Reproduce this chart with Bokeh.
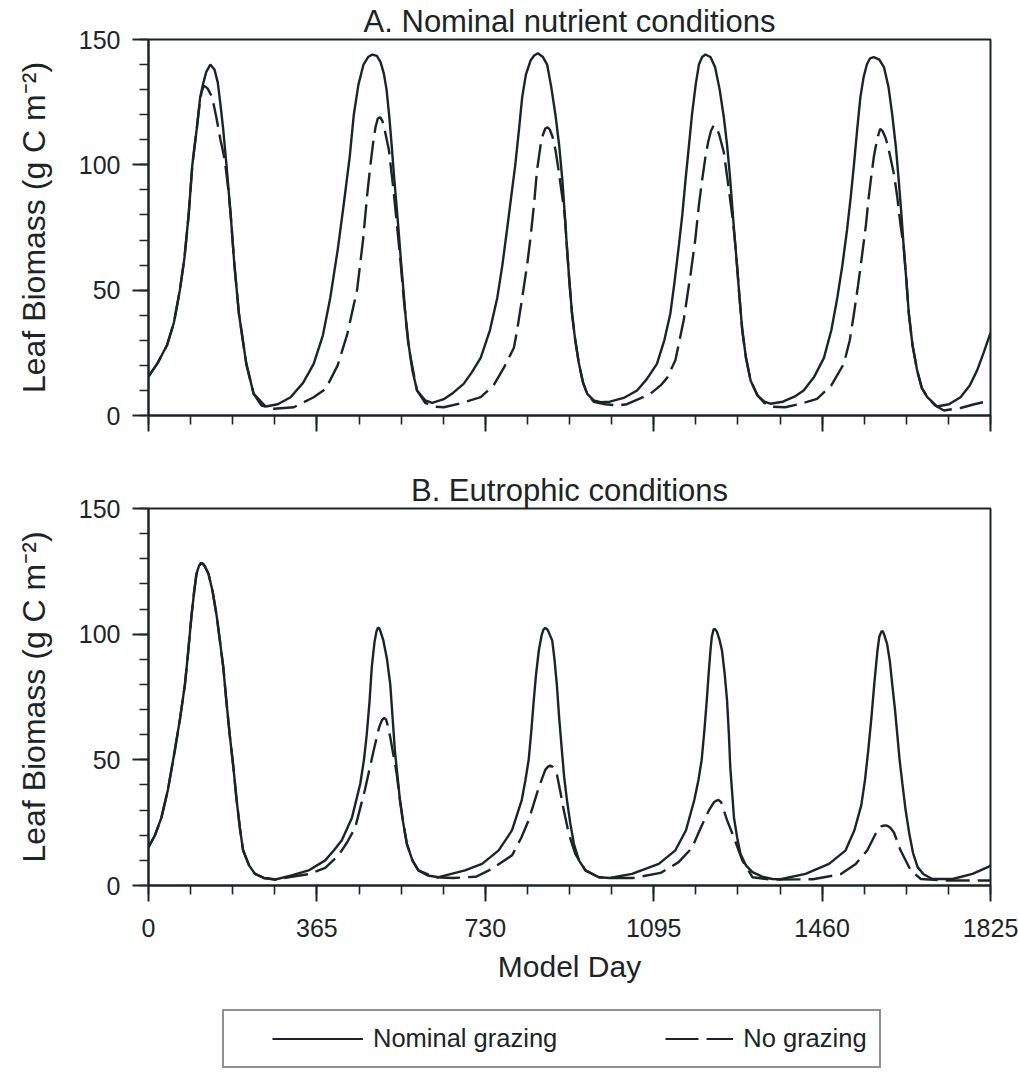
from bokeh.plotting import figure
from bokeh.models import Range1d, FixedTicker, Legend, LegendItem
from bokeh.layouts import column
from bokeh.embed import file_html
from bokeh.resources import INLINE

# ---------------- data ----------------
x_ticks = [0, 365, 730, 1095, 1460, 1825]
y_ticks = [0, 50, 100, 150]

a_solid_day = [0, 20, 40, 55, 68, 78, 87, 95, 105, 112, 118, 125, 134, 143, 150, 156, 162, 169, 178, 186, 196, 212,
               228, 254, 280, 308, 335, 358, 378, 394, 410, 423, 436, 445, 455, 466, 476, 485, 495, 503, 510, 516, 522,
               527, 532, 537, 542, 547, 553, 558, 564, 572, 582, 600, 615, 640, 660, 683, 700, 720, 740, 756, 767, 777,
               786, 795, 803, 810, 818, 828, 836, 844, 855, 864, 873, 882, 890, 897, 902, 907, 912, 918, 925, 933, 942,
               951, 965, 980, 1000, 1030, 1059, 1080, 1102, 1118, 1131, 1140, 1149, 1157, 1164, 1171, 1178, 1186, 1193,
               1200, 1207, 1218, 1228, 1238, 1247, 1254, 1260, 1265, 1270, 1276, 1281, 1287, 1295, 1305, 1320, 1335,
               1348, 1375, 1400, 1420, 1443, 1464, 1480, 1493, 1504, 1514, 1522, 1529, 1536, 1543, 1550, 1557, 1564,
               1572, 1584, 1594, 1604, 1612, 1620, 1626, 1632, 1637, 1643, 1648, 1656, 1666, 1676, 1688, 1709, 1735,
               1760, 1780, 1796, 1810, 1825]
a_solid_val = [15.5, 21, 28, 37, 50, 63, 80, 100, 115, 127, 132, 137, 140, 138, 133, 124, 114, 100, 80.4, 60.5, 40.6,
               20.6, 8.6, 3.6, 4.5, 7.3, 13, 20.6, 32, 47, 66, 84, 103, 120, 132, 140, 143, 144, 143.5, 141, 136.5, 130,
               119, 108, 96, 85, 74, 62, 49, 38, 28, 18, 10, 6, 5, 6.5, 9, 12.6, 17, 23, 34, 47, 60, 74, 87, 100, 114,
               127, 136, 141.6, 143.6, 144.5, 143, 140, 131, 120, 108, 94, 81, 67, 54, 40.6, 30, 20.6, 13, 8.6, 6, 5.3,
               5.5, 7, 10, 14.5, 20.6, 30, 40.6, 53, 67, 80, 94, 107, 120, 132, 140, 143, 144, 143, 139, 130, 119, 108,
               96, 84, 72, 59, 47, 34, 23, 14, 8, 5.5, 4.7, 5.5, 7.5, 10, 15.5, 23, 34, 47, 60, 74, 87, 100, 114, 127,
               135, 140, 142.5, 143, 142, 139, 131, 120, 107, 94, 80, 67, 53, 40.6, 28, 18, 11, 7.3, 3.6, 4.5, 7.3, 12,
               18, 25, 33]

a_dash_day = [0, 20, 40, 55, 68, 78, 87, 95, 105, 110, 115, 120, 128, 138, 147, 156, 163, 168, 173, 178, 186, 196, 212,
              228, 245, 272, 315, 358, 384, 410, 431, 452, 465, 474, 481, 487, 492, 497, 502, 507, 513, 521, 531, 539,
              546, 553, 564, 582, 600, 620, 640, 680, 720, 748, 770, 792, 799, 810, 821, 828, 836, 842, 850, 855, 860,
              865, 870, 876, 882, 889, 900, 903, 907, 912, 918, 925, 933, 942, 951, 965, 990, 1016, 1037, 1062, 1088,
              1110, 1124, 1142, 1160, 1175, 1185, 1193, 1200, 1207, 1213, 1219, 1225, 1231, 1237, 1247, 1258, 1265,
              1270, 1276, 1281, 1287, 1295, 1305, 1320, 1335, 1350, 1380, 1413, 1449, 1480, 1507, 1520, 1529, 1538,
              1547, 1555, 1561, 1567, 1572, 1577, 1582, 1586, 1591, 1597, 1602, 1608, 1616, 1623, 1630, 1637, 1643,
              1648, 1656, 1666, 1676, 1688, 1705, 1724, 1760, 1790, 1825]
a_dash_val = [15.5, 21, 28, 37, 50, 63, 80, 100, 115, 123, 129, 131.6, 130.5, 127, 119, 110, 104, 98, 90, 80.4, 60.5,
              40.6, 20.6, 8.6, 4, 2.7, 3.3, 7.3, 10.6, 20, 32.6, 50, 70, 88, 100, 109, 115, 118.5, 119, 117.5, 113,
              106, 90, 75, 62, 47, 27, 10, 5, 3.5, 3.3, 5, 7.3, 12, 19, 27, 34, 47, 60.5, 71, 85, 97.7, 108, 112, 114.5,
              115, 114, 111, 106, 97.7, 83, 78, 67, 54, 40.6, 30, 20.6, 13, 8.6, 5.5, 4.5, 4, 4.5, 6.5, 8.7, 12, 15, 22,
              38, 56.5, 70, 84, 94, 103, 109, 113.5, 115.7, 115, 112, 105, 90, 80, 72, 59, 47, 34, 23, 14, 8, 5, 3.5,
              3.3, 4.7, 6.6, 12, 20.6, 30, 40.6, 52, 64.5, 76, 87, 96, 103, 108, 112, 114.4, 113.5, 111, 108, 103, 96,
              87, 76, 67, 53, 40.6, 28, 18, 11, 7.3, 4, 2, 3, 4.5, 6]

b_solid_day = [0, 14, 28, 42, 57, 68, 79, 86, 93, 99, 104, 109, 114, 118, 122, 130, 139, 148, 155, 162, 169, 176, 184,
               191, 198, 205, 218, 231, 250, 275, 310, 347, 383, 402, 419, 441, 459, 467, 473, 479, 484, 490, 494, 497,
               500, 503, 509, 517, 524, 529, 534, 540, 545, 552, 560, 572, 585, 605, 629, 686, 723, 759, 788, 809, 817,
               824, 830, 835, 840, 846, 852, 856, 860, 864, 867, 875, 880, 885, 890, 896, 901, 907, 914, 922, 933, 947,
               976, 1000, 1048, 1106, 1142, 1165, 1183, 1192, 1199, 1205, 1210, 1214, 1218, 1221, 1225, 1228, 1232,
               1238, 1243, 1249, 1254, 1258, 1261, 1265, 1269, 1276, 1283, 1295, 1309, 1330, 1352, 1370, 1424, 1475,
               1511, 1530, 1545, 1553, 1560, 1567, 1573, 1580, 1584, 1589, 1592, 1595, 1601, 1607, 1612, 1618, 1623,
               1628, 1634, 1641, 1649, 1657, 1667, 1680, 1699, 1743, 1786, 1819, 1825]
b_solid_val = [15.2, 20, 27, 38, 53.7, 66, 80, 93, 107, 117, 124, 127, 128.3, 128, 127, 124, 117, 107, 97, 87, 73, 60,
               47, 34, 23, 14, 8, 4.6, 3, 2.4, 4, 6, 10, 14, 18, 27, 40.5, 50, 60, 73, 87, 97, 101, 102.5, 102.5, 101,
               97.5, 90, 80, 67, 53.7, 43, 34, 25, 16.6, 10, 6, 4, 3.3, 6, 8.6, 14, 22, 34, 42, 50, 62, 73.6, 84, 93.5,
               99.5, 101.8, 102.5, 102, 101, 97.5, 90, 80, 67, 53.7, 43, 34, 25, 16.6, 10, 6, 3.3, 3, 4.6, 8.6, 14, 22,
               34, 42, 50, 62, 73.6, 84, 93.5, 99, 102, 102, 101, 97.5, 93.5, 84, 73.6, 60, 47, 37, 27, 19, 12.6, 8,
               5.3, 3.5, 2.6, 2.5, 4.6, 8.6, 14, 22, 32, 42, 53.7, 67, 80, 93.5, 99, 101.2, 101, 99.5, 96, 89, 80, 70,
               60, 50, 40.5, 30, 20.6, 13, 7.3, 4.5, 2.6, 2.6, 4.6, 7.3, 8]

b_dash_day = [0, 14, 28, 42, 57, 68, 79, 86, 93, 99, 104, 109, 114, 118, 122, 130, 139, 148, 155, 162, 169, 176, 184,
              191, 198, 205, 218, 231, 250, 275, 310, 347, 383, 412, 430, 448, 469, 488, 500, 506, 511, 515, 518, 524,
              538, 545, 552, 560, 572, 585, 621, 660, 710, 744, 788, 808, 824, 846, 860, 866, 871, 876, 880, 885, 893,
              900, 911, 925, 947, 976, 1000, 1050, 1110, 1149, 1178, 1197, 1215, 1225, 1231, 1236, 1241, 1245, 1254,
              1269, 1287, 1309, 1352, 1440, 1500, 1533, 1558, 1576, 1588, 1593, 1598, 1603, 1608, 1616, 1630, 1652,
              1674, 1720, 1780, 1825]
b_dash_val = [15.2, 20, 27, 38, 53.7, 66, 80, 93, 107, 117, 124, 127, 128.3, 128, 127, 124, 117, 107, 97, 87, 73, 60,
              47, 34, 23, 14, 8, 4.6, 3, 2.4, 3.5, 4.5, 7, 12, 17, 23, 38, 53.7, 63, 65.8, 66.7, 66, 64, 59, 44.4, 34,
              25, 16.6, 10, 6, 3.3, 3, 3.5, 6.6, 12, 19, 26, 39, 46, 47.3, 47.7, 47.2, 46, 44.4, 37, 30, 20.6, 12.6, 6,
              3.3, 3, 3, 5, 9.3, 15, 23, 30, 33, 33.8, 34, 33.2, 31, 26, 19, 10, 3.3, 2.3, 2.5, 4.5, 8.6, 14, 20.6, 23.5,
              23.8, 23.9, 23.6, 23, 21, 14, 6, 2.6, 2, 2, 2]

panel_titles = ["A. Nominal nutrient conditions", "B. Eutrophic conditions"]
series_labels = ["Nominal grazing", "No grazing"]

# ---------------- styling ----------------
INK = "#1b2427"
FONT = "Liberation Sans"
DASH = "24 8"
LW = 2.4
W = 1018


def make_panel(title, height, top, bottom, title_offset, show_x_labels):
    p = figure(width=W, height=height, x_range=Range1d(0, 1825), y_range=Range1d(0, 150),
               output_backend="svg", toolbar_location=None,
               min_border_left=148, min_border_right=28, min_border_top=top, min_border_bottom=bottom)
    p.title.text = title
    p.title.text_font = FONT
    p.title.text_font_size = "31px"
    p.title.text_font_style = "normal"
    p.title.text_color = INK
    p.title.align = "center"
    p.title.offset = title_offset
    p.title.standoff = 2
    p.xgrid.visible = False
    p.ygrid.visible = False
    p.outline_line_color = INK
    p.outline_line_width = 2
    p.background_fill_color = "white"
    p.border_fill_color = "white"

    p.xaxis.ticker = FixedTicker(ticks=x_ticks, minor_ticks=[i * 91.25 for i in range(21)])
    p.yaxis.ticker = FixedTicker(ticks=y_ticks, minor_ticks=list(range(0, 151, 10)))
    for ax in (p.xaxis, p.yaxis):
        ax.axis_line_color = INK
        ax.axis_line_width = 2
        ax.major_tick_line_color = INK
        ax.major_tick_line_width = 2
        ax.minor_tick_line_color = INK
        ax.minor_tick_line_width = 1.6
        ax.major_tick_in = 0
        ax.major_tick_out = 16
        ax.minor_tick_in = 0
        ax.minor_tick_out = 9
        ax.major_label_text_font = FONT
        ax.major_label_text_font_size = "25px"
        ax.major_label_text_color = INK
        ax.axis_label_text_font = FONT
        ax.axis_label_text_font_style = "normal"
        ax.axis_label_text_color = INK
    p.yaxis.axis_label = "Leaf Biomass (g C m\u207b\u00b2)"
    p.yaxis.axis_label_text_font_size = "32px"
    p.yaxis.major_label_standoff = 12
    p.yaxis.axis_label_standoff = 24
    if show_x_labels:
        p.xaxis.axis_label = "Model Day"
        p.xaxis.axis_label_text_font_size = "30px"
        p.xaxis.major_label_standoff = 17
        p.xaxis.axis_label_standoff = 10
    else:
        p.xaxis.major_label_text_font_size = "0px"
        p.xaxis.major_label_standoff = 0
    return p


pA = make_panel(panel_titles[0], 460, 39, 45, 12, False)
pA.line(a_solid_day, a_solid_val, line_color=INK, line_width=LW)
pA.line(a_dash_day, a_dash_val, line_color=INK, line_width=LW, line_dash=DASH)

pB = make_panel(panel_titles[1], 540, 48, 115, 3, True)
pB.line(b_solid_day, b_solid_val, line_color=INK, line_width=LW)
pB.line(b_dash_day, b_dash_val, line_color=INK, line_width=LW, line_dash=DASH)

# legend panel (same frame as the two panels, legend box placed inside)
pL = figure(width=W, height=76, x_range=Range1d(0, 1), y_range=Range1d(0, 1),
            output_backend="svg", toolbar_location=None,
            min_border_left=148, min_border_right=28, min_border_top=0, min_border_bottom=0)
pL.axis.visible = False
pL.xgrid.visible = False
pL.ygrid.visible = False
pL.outline_line_color = None
# legend keys only: lines placed outside the visible range
r1 = pL.line(x=[0, 1], y=[-5, -5], line_color=INK, line_width=2, line_dash="0 36 91 80")
r2 = pL.line(x=[0, 1], y=[-5, -5], line_color=INK, line_width=2, line_dash="0 59 33 8 32 80")
leg = Legend(items=[LegendItem(label=series_labels[0], renderers=[r1]),
                    LegendItem(label=series_labels[1], renderers=[r2])],
             orientation="horizontal", location=(74, 8), glyph_width=127, glyph_height=31,
             label_standoff=10, spacing=49, padding=12, margin=0,
             border_line_color=INK, border_line_width=2, background_fill_color="white",
             label_text_font=FONT, label_text_font_size="25.5px", label_text_color=INK)
pL.add_layout(leg)

layout = column(pA, pB, pL, spacing=0)
open("out.html", "w").write(file_html(layout, INLINE))
